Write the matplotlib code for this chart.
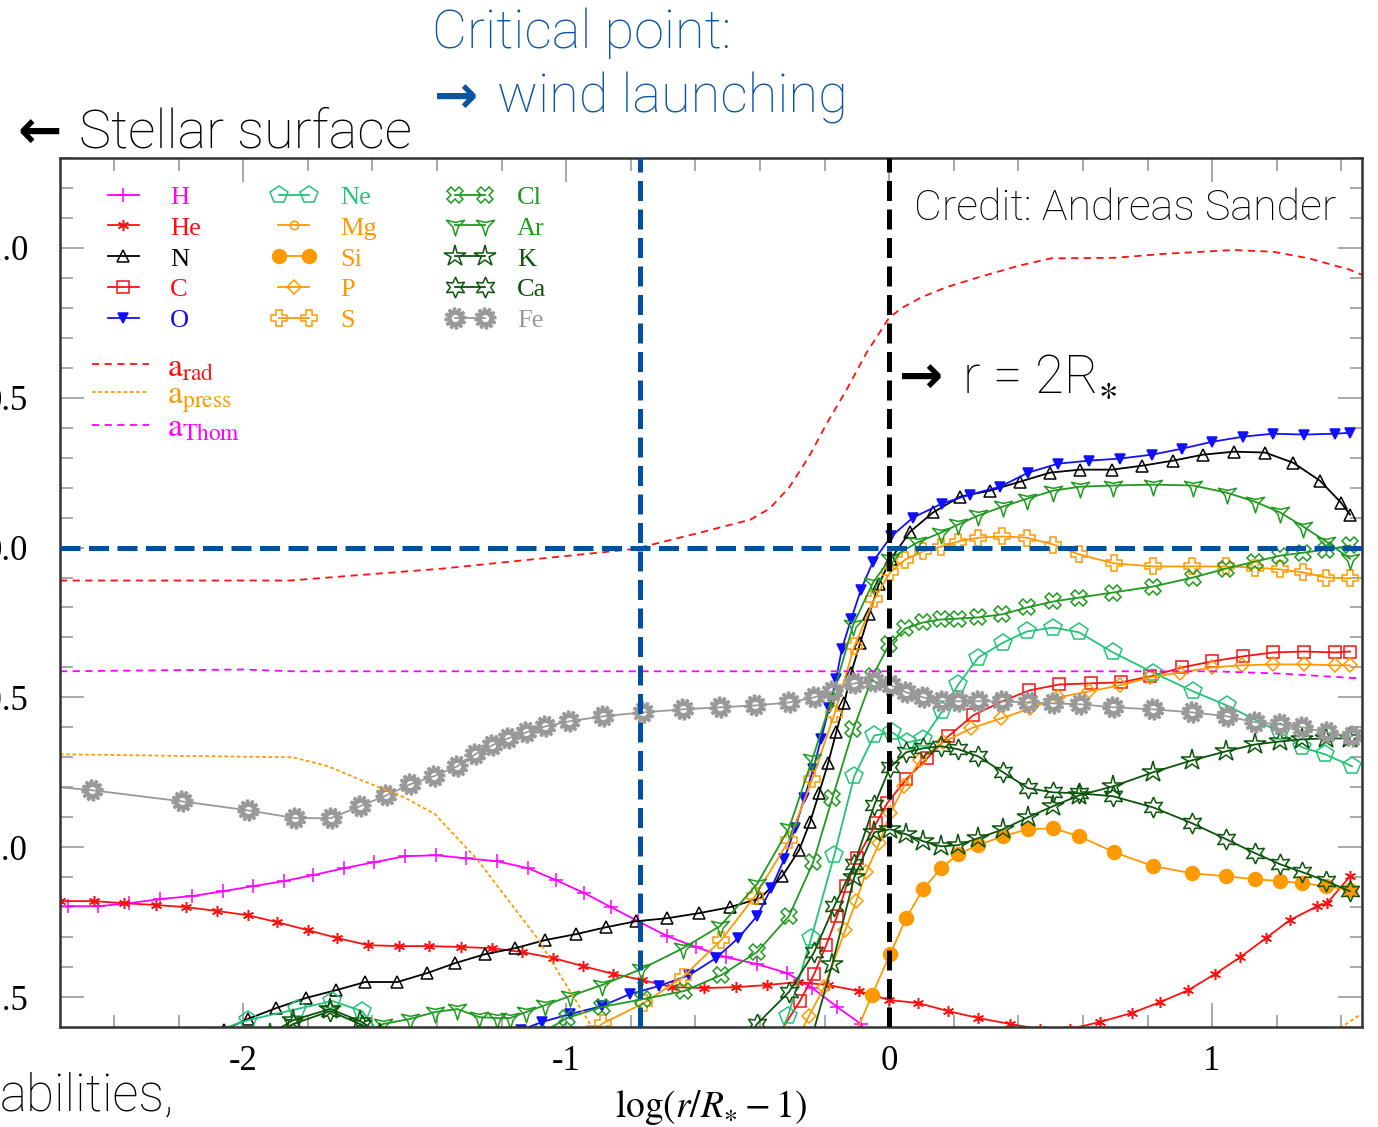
import numpy as np
import matplotlib
matplotlib.use('Agg')
import matplotlib.pyplot as plt
from matplotlib.path import Path
from matplotlib.lines import Line2D
from matplotlib.legend_handler import HandlerLine2D

plt.rcParams['font.family'] = ['Liberation Serif', 'DejaVu Sans']
plt.rcParams['mathtext.fontset'] = 'stix'
plt.rcParams['axes.unicode_minus'] = False

nan = float('nan')

# log(a/g) against log(r/R* - 1)
h_pts = [(-2.542, -1.197), (-2.449, -1.197), (-2.353, -1.187), (-2.257, -1.173), (-2.158, -1.163),
         (-2.062, -1.147), (-1.969, -1.13), (-1.873, -1.113), (-1.783, -1.093), (-1.687, -1.07),
         (-1.594, -1.05), (-1.498, -1.03), (-1.402, -1.027), (-1.310, -1.037), (-1.214, -1.047),
         (-1.118, -1.07), (-1.031, -1.11), (-0.944, -1.153), (-0.861, -1.20), (-0.777, -1.247),
         (-0.687, -1.297), (-0.598, -1.333), (-0.505, -1.367), (-0.409, -1.39), (-0.316, -1.42),
         (-0.238, -1.47), (-0.161, -1.533), (-0.087, -1.59), (-0.04, -1.68)]
he_pts = [(-2.567, -1.18), (-2.461, -1.18), (-2.368, -1.187), (-2.269, -1.193), (-2.176, -1.20),
          (-2.080, -1.213), (-1.985, -1.227), (-1.895, -1.25), (-1.799, -1.277), (-1.709, -1.303),
          (-1.613, -1.327), (-1.517, -1.33), (-1.424, -1.33), (-1.325, -1.333), (-1.229, -1.337),
          (-1.136, -1.35), (-1.040, -1.37), (-0.947, -1.397), (-0.854, -1.423), (-0.765, -1.443),
          (-0.672, -1.467), (-0.573, -1.47), (-0.474, -1.467), (-0.378, -1.46), (-0.282, -1.45),
          (-0.189, -1.46), (-0.093, -1.48), (0.0, -1.51), (0.090, -1.52), (0.183, -1.547),
          (0.276, -1.57), (0.375, -1.59), (0.467, -1.607), (0.560, -1.607), (0.653, -1.583),
          (0.752, -1.553), (0.839, -1.517), (0.926, -1.477), (1.009, -1.423), (1.087, -1.367),
          (1.167, -1.303), (1.241, -1.243), (1.325, -1.197), (1.356, -1.187), (1.427, -1.097)]
n_pts = [(-2.06, -1.61), (-1.985, -1.573), (-1.898, -1.537), (-1.805, -1.503), (-1.712, -1.477),
         (-1.622, -1.45), (-1.523, -1.45), (-1.430, -1.42), (-1.344, -1.387), (-1.251, -1.357),
         (-1.158, -1.337), (-1.065, -1.31), (-0.969, -1.29), (-0.876, -1.267), (-0.783, -1.247),
         (-0.687, -1.237), (-0.588, -1.22), (-0.492, -1.20), (-0.399, -1.17), (-0.331, -1.097),
         (-0.279, -1.01), (-0.245, -0.917), (-0.217, -0.82), (-0.189, -0.72), (-0.164, -0.617),
         (-0.139, -0.52), (-0.118, -0.42), (-0.090, -0.32), (-0.062, -0.223), (-0.031, -0.12),
         (0.006, -0.037), (0.065, 0.053), (0.136, 0.117), (0.220, 0.17), (0.313, 0.19),
         (0.406, 0.22), (0.498, 0.25), (0.591, 0.26), (0.690, 0.26), (0.783, 0.273),
         (0.879, 0.29), (0.972, 0.31), (1.068, 0.32), (1.164, 0.317), (1.251, 0.283),
         (1.334, 0.223), (1.399, 0.15), (1.427, 0.11)]
c_pts = [(-0.345, -1.63), (-0.276, -1.513), (-0.232, -1.423), (-0.195, -1.327), (-0.161, -1.23),
         (-0.133, -1.13), (-0.099, -1.037), (-0.040, -0.92), (-0.006, -0.853), (0.053, -0.773),
         (0.118, -0.703), (0.183, -0.63), (0.260, -0.56), (0.350, -0.513), (0.433, -0.477),
         (0.526, -0.457), (0.625, -0.453), (0.718, -0.45), (0.808, -0.43), (0.907, -0.40),
         (1.0, -0.38), (1.096, -0.363), (1.189, -0.35), (1.285, -0.347), (1.381, -0.35),
         (1.427, -0.347)]
o_pts = [(-1.14, -1.61), (-1.074, -1.583), (-0.988, -1.557), (-0.889, -1.53), (-0.802, -1.49),
         (-0.712, -1.463), (-0.619, -1.427), (-0.536, -1.37), (-0.467, -1.303), (-0.409, -1.23),
         (-0.365, -1.137), (-0.325, -1.04), (-0.291, -0.937), (-0.263, -0.837), (-0.235, -0.74),
         (-0.211, -0.64), (-0.186, -0.537), (-0.164, -0.437), (-0.146, -0.337), (-0.118, -0.24),
         (-0.087, -0.14), (-0.050, -0.047), (0.006, 0.037), (0.074, 0.10), (0.164, 0.147),
         (0.251, 0.177), (0.344, 0.203), (0.430, 0.25), (0.523, 0.28), (0.619, 0.29),
         (0.715, 0.297), (0.814, 0.31), (0.907, 0.33), (1.0, 0.353), (1.096, 0.37),
         (1.189, 0.38), (1.285, 0.377), (1.381, 0.38), (1.427, 0.383)]
ne_pts = [(-2.13, -1.63), (-1.985, -1.577), (-1.833, -1.54), (-1.724, -1.513), (-1.632, -1.547),
          (-1.576, -1.623), (nan, nan),
          (-0.344, -1.64), (-0.313, -1.563), (-0.241, -1.303), (-0.170, -1.027), (-0.108, -0.763),
          (-0.046, -0.627), (0.009, -0.617), (0.056, -0.65), (0.105, -0.64), (0.164, -0.547),
          (0.214, -0.457), (0.276, -0.367), (0.353, -0.317), (0.427, -0.28), (0.508, -0.267),
          (0.588, -0.283), (0.693, -0.35), (0.817, -0.417), (0.941, -0.48), (1.046, -0.527),
          (1.211, -0.617), (1.279, -0.667), (1.350, -0.69), (1.433, -0.73)]
mg_pts = []  # below the plotted range
si_pts = [(-0.111, -1.64), (-0.053, -1.493), (0.003, -1.357), (0.053, -1.237), (0.105, -1.14),
          (0.161, -1.07), (0.214, -1.023), (0.276, -0.993), (0.353, -0.963), (0.430, -0.94),
          (0.508, -0.937), (0.588, -0.963), (0.697, -1.017), (0.817, -1.063), (0.938, -1.087),
          (1.043, -1.097), (1.133, -1.107), (1.211, -1.113), (1.279, -1.12), (1.353, -1.13),
          (1.427, -1.143)]
p_pts = [(-0.291, -1.657), (-0.248, -1.563), (-0.201, -1.467), (-0.136, -1.277), (-0.102, -1.18),
         (-0.071, -1.083), (-0.031, -0.987), (0.003, -0.887), (0.046, -0.797), (0.096, -0.71),
         (0.167, -0.65), (0.254, -0.603), (0.347, -0.57), (0.437, -0.537), (0.523, -0.50),
         (0.619, -0.48), (0.715, -0.46), (0.808, -0.433), (0.901, -0.417), (1.0, -0.40),
         (1.093, -0.393), (1.189, -0.39), (1.285, -0.39), (1.381, -0.393), (1.427, -0.393)]
s_pts = [(-0.926, -1.623), (-0.885, -1.587), (-0.759, -1.52), (-0.638, -1.433), (-0.520, -1.31),
         (-0.415, -1.163), (-0.310, -0.977), (-0.238, -0.773), (-0.170, -0.557), (-0.108, -0.33),
         (-0.046, -0.173), (0.003, -0.083), (0.050, -0.04), (0.105, -0.013), (0.161, 0.003),
         (0.214, 0.02), (0.276, 0.033), (0.350, 0.037), (0.427, 0.033), (0.508, 0.01),
         (0.588, -0.023), (0.697, -0.053), (0.817, -0.063), (0.938, -0.063), (1.043, -0.063),
         (1.133, -0.067), (1.211, -0.073), (1.282, -0.083), (1.353, -0.10), (1.427, -0.103)]
cl_pts = [(-1.080, -1.623), (-0.997, -1.57), (-0.889, -1.533), (-0.762, -1.507), (-0.635, -1.48),
          (-0.520, -1.427), (-0.409, -1.35), (-0.310, -1.23), (-0.235, -1.05), (-0.176, -0.837),
          (-0.111, -0.607), (-0.050, -0.427), (0.0, -0.323), (0.050, -0.27), (0.105, -0.25),
          (0.161, -0.24), (0.214, -0.237), (0.276, -0.233), (0.350, -0.223), (0.427, -0.20),
          (0.508, -0.18), (0.588, -0.167), (0.693, -0.15), (0.817, -0.13), (0.941, -0.10),
          (1.043, -0.07), (1.133, -0.047), (1.211, -0.027), (1.282, -0.017), (1.353, -0.007),
          (1.427, 0.007)]
ar_pts = [(-1.613, -1.623), (-1.567, -1.59), (-1.483, -1.573), (-1.406, -1.55), (-1.337, -1.54),
          (-1.269, -1.567), (-1.214, -1.57), (-1.173, -1.57), (-1.124, -1.55), (-1.065, -1.527),
          (-0.988, -1.497), (-0.889, -1.46), (-0.768, -1.407), (-0.638, -1.337), (-0.523, -1.263),
          (-0.409, -1.123), (-0.310, -0.937), (-0.238, -0.707), (-0.176, -0.50), (-0.111, -0.257),
          (-0.050, -0.117), (0.003, -0.037), (0.087, 0.017), (0.161, 0.05), (0.214, 0.077),
          (0.276, 0.107), (0.353, 0.137), (0.427, 0.163), (0.508, 0.19), (0.591, 0.203),
          (0.693, 0.207), (0.817, 0.21), (0.941, 0.207), (1.046, 0.183), (1.133, 0.153),
          (1.211, 0.117), (1.282, 0.07), (1.353, 0.02), (1.427, -0.037)]
k_pts = [(-1.916, -1.623), (-1.845, -1.577), (-1.731, -1.54), (-1.638, -1.58), (-1.576, -1.623),
         (nan, nan),
         (-0.245, -1.657), (-0.176, -1.39), (-0.108, -1.10), (-0.046, -0.95), (0.003, -0.94),
         (0.053, -0.957), (0.105, -0.98), (0.161, -0.997), (0.214, -0.993), (0.276, -0.97),
         (0.353, -0.94), (0.430, -0.90), (0.508, -0.863), (0.588, -0.827), (0.693, -0.797),
         (0.817, -0.75), (0.938, -0.71), (1.043, -0.68), (1.133, -0.657), (1.211, -0.647),
         (1.279, -0.64), (1.353, -0.637), (1.427, -0.637)]
ca_pts = [(-1.932, -1.64), (-1.845, -1.59), (-1.731, -1.547), (-1.632, -1.593), (-1.582, -1.64),
          (nan, nan),
          (-0.446, -1.657), (-0.409, -1.59), (-0.310, -1.483), (-0.232, -1.35), (-0.170, -1.197),
          (-0.108, -1.057), (-0.046, -0.86), (0.003, -0.733), (0.053, -0.683), (0.105, -0.67),
          (0.161, -0.663), (0.214, -0.673), (0.276, -0.697), (0.353, -0.75), (0.430, -0.803),
          (0.508, -0.817), (0.588, -0.82), (0.693, -0.83), (0.817, -0.867), (0.938, -0.92),
          (1.043, -0.973), (1.133, -1.02), (1.211, -1.057), (1.279, -1.083), (1.353, -1.113),
          (1.427, -1.147)]
fe_pts = [(-2.567, -0.80), (-2.467, -0.81), (-2.189, -0.847), (-1.985, -0.877), (-1.839, -0.903),
          (-1.728, -0.903), (-1.638, -0.863), (-1.557, -0.827), (-1.483, -0.79), (-1.409, -0.763),
          (-1.337, -0.73), (-1.282, -0.69), (-1.229, -0.66), (-1.180, -0.637), (-1.124, -0.617),
          (-1.065, -0.597), (-0.991, -0.58), (-0.885, -0.563), (-0.762, -0.55), (-0.638, -0.54),
          (-0.523, -0.533), (-0.415, -0.527), (-0.310, -0.517), (-0.232, -0.50), (-0.176, -0.48),
          (-0.108, -0.453), (-0.046, -0.447), (0.006, -0.46), (0.053, -0.483), (0.105, -0.50),
          (0.164, -0.513), (0.214, -0.513), (0.276, -0.513), (0.350, -0.513), (0.430, -0.517),
          (0.508, -0.52), (0.591, -0.523), (0.693, -0.533), (0.817, -0.54), (0.938, -0.55),
          (1.046, -0.563), (1.133, -0.583), (1.211, -0.59), (1.279, -0.60), (1.356, -0.617),
          (1.433, -0.63)]

a_rad = [(-2.567, -0.11), (-1.855, -0.11), (-1.381, -0.07), (-0.79, -0.005), (-0.585, 0.05),
         (-0.430, 0.093), (-0.37, 0.13), (-0.31, 0.20), (-0.25, 0.30), (-0.19, 0.42),
         (-0.13, 0.53), (-0.07, 0.65), (0.0, 0.767), (0.04, 0.80), (0.10, 0.835), (0.18, 0.87),
         (0.28, 0.903), (0.40, 0.94), (0.50, 0.965), (0.70, 0.967), (0.85, 0.98), (1.065, 0.993),
         (1.19, 0.987), (1.30, 0.965), (1.427, 0.927), (1.464, 0.91)]
a_press = [(-2.567, -0.69), (-1.845, -0.70), (-1.737, -0.73), (-1.619, -0.783), (-1.502, -0.833),
           (-1.406, -0.89), (-1.276, -1.04), (-1.087, -1.307), (-0.907, -1.623), (nan, nan),
           (1.33, -1.65), (1.464, -1.555)]
a_thom = [(-2.567, -0.413), (-2.0, -0.407), (-1.845, -0.413), (1.0, -0.413), (1.2, -0.42),
          (1.464, -0.437)]

crit_x = -0.77   # critical point
r2_x = 0.0       # r = 2 R*
gamma_y = 0.0

W, H = 1378, 1127


def gear(n=12, r_in=0.74, hole=0.42):
    verts = []
    step = 2 * np.pi / n
    for i in range(n):
        a = i * step
        for r, da in ((1.0, 0.0), (1.0, 0.38), (r_in, 0.5), (r_in, 0.88)):
            verts.append((r * np.cos(a + da * step), r * np.sin(a + da * step)))
    codes = [Path.MOVETO] + [Path.LINETO] * (len(verts) - 1) + [Path.CLOSEPOLY]
    verts.append(verts[0])
    t = np.linspace(0, 2 * np.pi, 25)[::-1]
    hv = [(hole * np.cos(a), hole * np.sin(a)) for a in t]
    verts += hv
    codes += [Path.MOVETO] + [Path.LINETO] * (len(hv) - 2) + [Path.CLOSEPOLY]
    return Path(verts, codes)


def tri_star(r_in=0.3):
    verts = []
    for i in range(3):
        a = np.radians(-90 + 120 * i)
        verts.append((np.cos(a), np.sin(a)))
        b = a + np.radians(60)
        verts.append((r_in * np.cos(b), r_in * np.sin(b)))
    verts.append(verts[0])
    codes = [Path.MOVETO] + [Path.LINETO] * 5 + [Path.CLOSEPOLY]
    return Path(verts, codes)


class ShortLine(HandlerLine2D):
    def create_artists(self, legend, orig_handle, xdescent, ydescent, width, height, fontsize, trans):
        s = width * 0.25
        return super().create_artists(legend, orig_handle, xdescent - s, ydescent,
                                      width - 2 * s, height, fontsize, trans)


magenta, red, orange = '#ff00ff', '#ff1010', '#ff9900'
green, dgreen, teal = '#1f9a1f', '#0b550b', '#22c476'

series = [
    ('H', h_pts, magenta, '+', 10, False),
    ('He', he_pts, red, (6, 2, 0), 8, False),
    ('N', n_pts, 'black', '^', 8, False),
    ('C', c_pts, red, 's', 8, False),
    ('O', o_pts, '#1010ff', 'v', 7, True),
    ('Ne', ne_pts, teal, 'p', 13, False),
    ('Mg', mg_pts, orange, 'o', 6, False),
    ('Si', si_pts, orange, 'o', 10, True),
    ('P', p_pts, orange, 'D', 7, False),
    ('S', s_pts, orange, 'P', 12, False),
    ('Cl', cl_pts, green, 'X', 11, False),
    ('Ar', ar_pts, green, tri_star(), 15, False),
    ('K', k_pts, dgreen, '*', 16, False),
    ('Ca', ca_pts, dgreen, (6, 1, 0), 15, False),
    ('Fe', fe_pts, '#999999', gear(), 15, True),
]

fig = plt.figure(figsize=(W / 100, H / 100), dpi=100)
ax = fig.add_axes([60 / W, 1 - 1027 / H, 1302 / W, 869 / H])

handles = {}
for name, pts, col, mk, ms, filled in series:
    xs, ys = zip(*pts) if pts else ([], [])
    ln, = ax.plot(xs, ys, color=col, lw=1.3, marker=mk, ms=ms,
                  mfc=col if filled else 'none', mec=col, mew=1.1, label=name,
                  markevery=slice(1, None) if name == 'Fe' else None)
    handles[name] = ln

acc = []
for lab, pts, col, ls in [(r'$\mathrm{a}_{\mathrm{rad}}$', a_rad, red, (0, (4, 3))),
                          (r'$\mathrm{a}_{\mathrm{press}}$', a_press, orange, (0, (2, 1.5))),
                          (r'$\mathrm{a}_{\mathrm{Thom}}$', a_thom, magenta, (0, (4, 3)))]:
    xs, ys = zip(*pts)
    ln, = ax.plot(xs, ys, color=col, lw=1.3, ls=ls)
    acc.append((ln, lab))

dash = (0, (4.0, 1.7))
ax.axhline(gamma_y, color='#0050a0', lw=3.6, ls=dash, zorder=10)
ax.axvline(crit_x, color='#0050a0', lw=3.6, ls=dash, zorder=10)
ax.axvline(r2_x, color='black', lw=3.6, ls=dash, zorder=10)

ax.set_xlim(-2.567, 1.464)
ax.set_ylim(-1.6, 1.3)
ax.set_xticks([-2, -1, 0, 1])
ax.set_xticks(np.arange(-2.4, 1.5, 0.2), minor=True)
ax.set_yticks([-1.5, -1.0, -0.5, 0.0, 0.5, 1.0])
ax.set_yticks(np.arange(-1.5, 1.31, 0.1), minor=True)
ax.set_yticklabels(['%.1f' % v for v in [-1.5, -1.0, -0.5, 0.0, 0.5, 1.0]])
ax.tick_params(which='both', direction='in', top=True, right=True, color='#999999', width=1.2)
ax.tick_params(which='major', length=17, labelsize=25)
ax.tick_params(which='minor', length=9)
ax.tick_params(axis='y', pad=23)
ax.tick_params(axis='x', pad=13)
for sp in ax.spines.values():
    sp.set_color('#333333')
    sp.set_linewidth(1.8)
ax.set_xlabel(r'$\log(r/R_{\ast}-1)$', fontsize=27, labelpad=7)

order = ['H', 'He', 'N', 'C', 'O', 'Ne', 'Mg', 'Si', 'P', 'S', 'Cl', 'Ar', 'K', 'Ca', 'Fe']
hmap = {Line2D: HandlerLine2D(numpoints=2, marker_pad=0.6)}
for n in ['H', 'He', 'N', 'C', 'O', 'Mg', 'P']:
    hmap[handles[n]] = ShortLine(numpoints=1)
leg1 = ax.legend([handles[n] for n in order], order, ncol=3, loc='upper left',
                 bbox_to_anchor=(0.0246, 0.9685), frameon=False, fontsize=19,
                 handlelength=2.35, handletextpad=0.6, columnspacing=2.35,
                 labelspacing=0.28, borderpad=0, borderaxespad=0,
                 handler_map=hmap, labelcolor='linecolor')
ax.add_artist(leg1)
ax.legend([a[0] for a in acc], [a[1] for a in acc], loc='upper left',
          bbox_to_anchor=(0.0246, 0.776), frameon=False, fontsize=24,
          handlelength=1.7, handletextpad=0.55, labelspacing=-0.08,
          borderpad=0, borderaxespad=0, labelcolor='linecolor')

slide = dict(family=['Roboto', 'DejaVu Sans'], fontweight='light')
arrow = dict(family='DejaVu Sans', fontweight='bold', fontsize=38)
blue_txt = '#0b54a3'
fig.text(432 / W, 1 - 48 / H, 'Critical point:', color=blue_txt, fontsize=39, **slide)
fig.text(434 / W, 1 - 113 / H, '\u2192', color=blue_txt, **arrow)
fig.text(497 / W, 1 - 112 / H, 'wind launching', color=blue_txt, fontsize=39, **slide)
fig.text(17 / W, 1 - 148 / H, '\u2190', color='black', **arrow)
fig.text(79 / W, 1 - 148 / H, 'Stellar surface', color='black', fontsize=39, **slide)
fig.text(914 / W, 1 - 220 / H, 'Credit: Andreas Sander', color='black', fontsize=31, **slide)
fig.text(899 / W, 1 - 393 / H, '\u2192', color='black', **arrow)
fig.text(962 / W, 1 - 393 / H, 'r = 2R$_{\\ast}$', color='black', fontsize=38, **slide)
fig.text(0, 1 - 1110 / H, 'abilities,', color='black', fontsize=37, **slide)

fig.savefig('out.png', dpi=100)
